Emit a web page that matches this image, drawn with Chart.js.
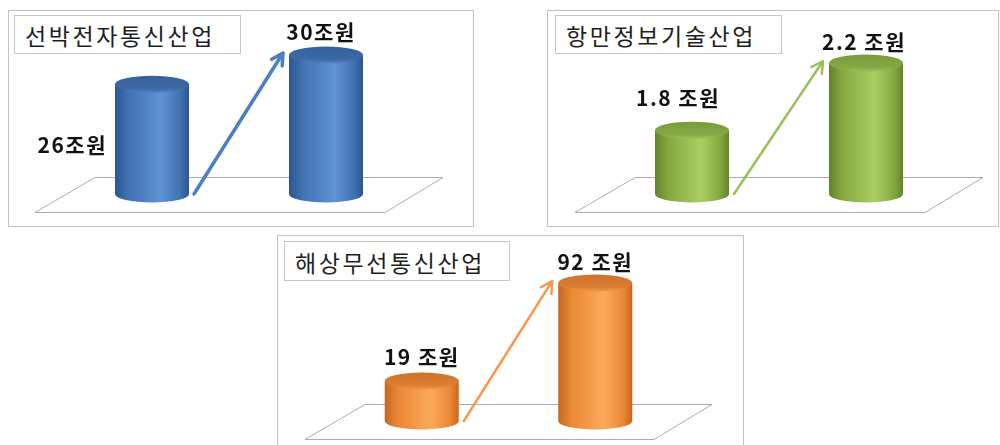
<!DOCTYPE html>
<html><head><meta charset="utf-8">
<script src="https://cdn.jsdelivr.net/npm/chart.js@4"></script>
<style>
body{margin:0;width:1000px;height:445px;overflow:hidden;background:#fff;font-family:"Noto Sans CJK KR","Noto Sans",sans-serif;}
.panel{position:absolute;border:1px solid #c2c2c2;box-sizing:border-box;background:#fff;}
.panel canvas{position:absolute;left:0;top:0;}
.title{position:absolute;border:1px solid #c6c6c6;background:#fff;box-sizing:border-box;font-size:23px;letter-spacing:2.6px;color:#1e1e1e;white-space:nowrap;padding-left:10px;padding-top:2px;font-weight:400;}
</style>
</head>
<body>
<div class="panel" style="left:8px;top:10px;width:466px;height:217px;"><canvas id="c1" width="464" height="215"></canvas></div>
<div class="panel" style="left:547px;top:10px;width:452px;height:217px;"><canvas id="c2" width="450" height="215"></canvas></div>
<div class="panel" style="left:277px;top:235px;width:467px;height:222px;"><canvas id="c3" width="465" height="220"></canvas></div>
<div class="title" id="t1" style="left:14px;top:15px;width:227px;height:39px;line-height:35px;"></div>
<div class="title" id="t2" style="left:555px;top:15px;width:227px;height:39px;line-height:35px;"></div>
<div class="title" id="t3" style="left:284px;top:241px;width:226px;height:40px;line-height:36px;"></div>
<script>
// ---- data ----
const titles = ['선박전자통신산업', '항만정보기술산업', '해상무선통신산업'];
const periods = ['현재', '전망'];
const shipElectronics = [26, 30];
const portIT = [1.8, 2.2];
const maritimeRadio = [19, 92];
const shipLabels = ['26조원', '30조원'];
const portLabels = ['1.8 조원', '2.2 조원'];
const radioLabels = ['19 조원', '92 조원'];

function drawCylinder(ctx, cx, top, base, rx, ry, col) {
  const l = cx - rx, r = cx + rx;
  const g = ctx.createLinearGradient(l, 0, r, 0);
  g.addColorStop(0, col.edge);
  g.addColorStop(0.18, col.mid);
  g.addColorStop(0.62, col.light);
  g.addColorStop(0.88, col.mid);
  g.addColorStop(1, col.edge);
  ctx.beginPath();
  ctx.moveTo(l, top);
  ctx.lineTo(l, base);
  ctx.ellipse(cx, base, rx, ry, 0, Math.PI, 0, true);
  ctx.lineTo(r, top);
  ctx.closePath();
  ctx.fillStyle = g;
  ctx.fill();
  const tg = ctx.createLinearGradient(0, top - ry, 0, top + ry);
  tg.addColorStop(0, col.topDark);
  tg.addColorStop(0.75, col.top);
  tg.addColorStop(1, col.topLight);
  ctx.beginPath();
  ctx.ellipse(cx, top, rx, ry, 0, 0, Math.PI * 2);
  ctx.fillStyle = tg;
  ctx.fill();
}

function drawArrow(ctx, x1, y1, x2, y2, color, w) {
  ctx.save();
  ctx.strokeStyle = color;
  ctx.lineWidth = w;
  ctx.lineCap = 'round';
  ctx.lineJoin = 'round';
  ctx.beginPath();
  ctx.moveTo(x1, y1);
  ctx.lineTo(x2, y2);
  const a = Math.atan2(y2 - y1, x2 - x1);
  const hl = 13, sp = 0.5;
  ctx.moveTo(x2 - hl * Math.cos(a - sp), y2 - hl * Math.sin(a - sp));
  ctx.lineTo(x2, y2);
  ctx.lineTo(x2 - hl * Math.cos(a + sp), y2 - hl * Math.sin(a + sp));
  ctx.stroke();
  ctx.restore();
}

const cylPlugin = {
  id: 'cyl',
  beforeDatasetsDraw(chart) {
    const ctx = chart.ctx, ca = chart.chartArea, base = ca.bottom;
    ctx.save();
    ctx.strokeStyle = '#ababab';
    ctx.lineWidth = 1;
    ctx.beginPath();
    ctx.moveTo(ca.left + 30, base - 16.5);
    ctx.lineTo(ca.right + 30, base - 16.5);
    ctx.lineTo(ca.right - 28, base + 18.5);
    ctx.lineTo(ca.left - 30, base + 18.5);
    ctx.closePath();
    ctx.stroke();
    ctx.restore();
  },
  afterDatasetsDraw(chart, args, opts) {
    const ctx = chart.ctx, ca = chart.chartArea, base = ca.bottom;
    const meta = chart.getDatasetMeta(0);
    const els = meta.data;
    ctx.save();
    els.forEach(el => {
      const rx = el.width / 2;
      drawCylinder(ctx, el.x, el.y, base, rx, 8.5, opts.colors);
    });
    const b1 = els[0], b2 = els[1];
    drawArrow(ctx, b1.x + b1.width / 2 + 5, base, b2.x - b2.width / 2 - 6, b2.y - 2, opts.arrow, opts.arrowWidth);
    ctx.fillStyle = '#111';
    ctx.font = 'bold 21px "Noto Sans CJK KR", sans-serif';
    ctx.letterSpacing = '1.5px';
    ctx.textBaseline = 'middle';
    opts.texts.forEach((t, i) => {
      const el = els[i], p = opts.place[i];
      ctx.textAlign = p.align || 'center';
      ctx.fillText(t, el.x + p.dx, el.y + p.dy);
    });
    ctx.restore();
  }
};

function makeChart(id, values, texts, yMin, yMax, padding, colors, arrow, arrowWidth, place) {
  return new Chart(document.getElementById(id), {
    type: 'bar',
    data: {
      labels: periods,
      datasets: [{ data: values, backgroundColor: 'rgba(0,0,0,0)', borderWidth: 0, base: yMin }]
    },
    options: {
      responsive: false,
      animation: false,
      layout: { padding },
      scales: {
        x: { display: false, offset: true },
        y: { display: false, min: yMin, max: yMax }
      },
      datasets: { bar: { barThickness: 74 } },
      plugins: {
        legend: { display: false },
        tooltip: { enabled: false },
        cyl: { colors, arrow, arrowWidth, texts, place }
      }
    },
    plugins: [cylPlugin]
  });
}

document.getElementById('t1').textContent = titles[0];
document.getElementById('t2').textContent = titles[1];
document.getElementById('t3').textContent = titles[2];

makeChart('c1', shipElectronics, shipLabels, 11, 30,
  { left: 56, right: 60, top: 44, bottom: 32 },
  { edge: '#2c5690', mid: '#4172b3', light: '#5f93d4', top: '#3d69a6', topDark: '#34609c', topLight: '#5482c0' },
  '#4a7fc1', 3.5,
  [{ dx: -45, dy: 61, align: 'right' }, { dx: -5, dy: -23 }]);

makeChart('c2', portIT, portLabels, 1.42, 2.2,
  { left: 57, right: 45, top: 52, bottom: 32 },
  { edge: '#63842a', mid: '#84a840', light: '#abce64', top: '#86a844', topDark: '#7a9b3a', topLight: '#9fc15a' },
  '#9bc05a', 2.5,
  [{ dx: -14, dy: -32 }, { dx: -2, dy: -21 }]);

makeChart('c3', maritimeRadio, radioLabels, -10.8, 92,
  { left: 57, right: 61, top: 47, bottom: 35 },
  { edge: '#c8661e', mid: '#ea8836', light: '#fcaa5a', top: '#dc7e34', topDark: '#cf722a', topLight: '#f29a4a' },
  '#f79a50', 2.5,
  [{ dx: 0, dy: -24 }, { dx: 0, dy: -21 }]);
</script>
</body></html>
